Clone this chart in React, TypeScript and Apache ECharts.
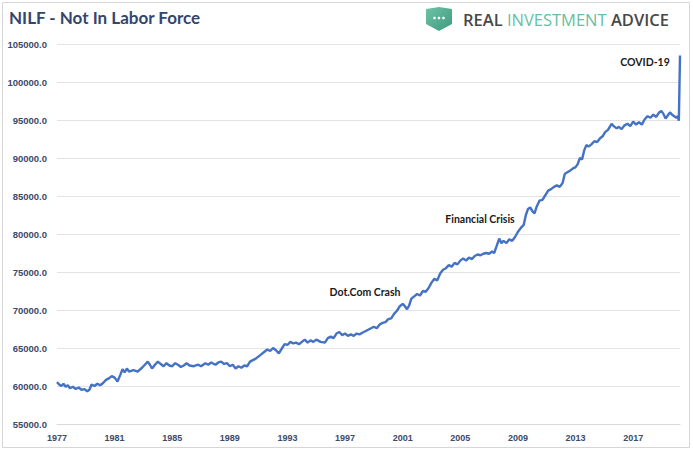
import React, { useEffect, useRef } from "react";
import * as echarts from "echarts";

const years: number[] = [
  1977.0, 1977.15, 1977.3, 1977.45, 1977.6, 1977.75, 1977.9, 1978.1, 1978.3, 1978.5, 1978.7, 1978.9,
  1979.1, 1979.25, 1979.4, 1979.6, 1979.8, 1980.0, 1980.2, 1980.4, 1980.6, 1980.8, 1981.0, 1981.2,
  1981.4, 1981.55, 1981.7, 1981.85, 1982.0, 1982.3, 1982.6, 1982.9, 1983.1, 1983.3, 1983.45, 1983.6,
  1983.8, 1984.0, 1984.2, 1984.4, 1984.6, 1984.8, 1985.0, 1985.2, 1985.4, 1985.6, 1985.8, 1986.0,
  1986.2, 1986.5, 1986.8, 1987.0, 1987.3, 1987.5, 1987.7, 1988.0, 1988.2, 1988.4, 1988.6, 1988.8,
  1989.0, 1989.2, 1989.4, 1989.6, 1989.8, 1990.0, 1990.2, 1990.4, 1990.6, 1990.8, 1991.0, 1991.2,
  1991.4, 1991.6, 1991.8, 1992.0, 1992.2, 1992.4, 1992.6, 1992.8, 1993.0, 1993.2, 1993.4, 1993.6,
  1993.8, 1994.0, 1994.2, 1994.4, 1994.6, 1994.8, 1995.0, 1995.3, 1995.6, 1995.8, 1996.0, 1996.2,
  1996.4, 1996.6, 1996.8, 1997.0, 1997.2, 1997.4, 1997.6, 1997.8, 1998.0, 1998.2, 1998.5, 1998.8,
  1999.0, 1999.2, 1999.4, 1999.6, 1999.8, 2000.0, 2000.2, 2000.4, 2000.6, 2000.8, 2001.0, 2001.15,
  2001.3, 2001.45, 2001.6, 2001.8, 2002.0, 2002.2, 2002.4, 2002.6, 2002.8, 2003.0, 2003.2, 2003.4,
  2003.6, 2003.8, 2004.0, 2004.2, 2004.4, 2004.6, 2004.8, 2005.0, 2005.2, 2005.4, 2005.6, 2005.8,
  2006.0, 2006.2, 2006.4, 2006.6, 2006.8, 2007.0, 2007.2, 2007.35, 2007.5, 2007.7, 2007.85, 2008.0,
  2008.2, 2008.4, 2008.6, 2008.8, 2009.0, 2009.2, 2009.4, 2009.55, 2009.7, 2009.85, 2010.0, 2010.15,
  2010.3, 2010.5, 2010.7, 2010.9, 2011.1, 2011.3, 2011.5, 2011.7, 2011.9, 2012.1, 2012.25, 2012.4,
  2012.6, 2012.8, 2013.0, 2013.15, 2013.3, 2013.45, 2013.6, 2013.75, 2013.9, 2014.1, 2014.3, 2014.5,
  2014.7, 2014.9, 2015.05, 2015.25, 2015.5, 2015.65, 2015.85, 2016.0, 2016.2, 2016.4, 2016.6, 2016.8,
  2017.0, 2017.2, 2017.4, 2017.6, 2017.8, 2018.0, 2018.2, 2018.4, 2018.6, 2018.8, 2018.95, 2019.1,
  2019.25, 2019.4, 2019.55, 2019.7, 2019.85, 2020.0, 2020.1, 2020.17, 2020.25,
];

const nilf: number[] = [
  60500, 60200, 60000, 60300, 59900, 60100, 59700, 59900, 59600, 59800, 59500, 59600,
  59300, 59500, 60200, 60000, 60300, 60100, 60400, 60800, 61000, 61300, 61100, 60600,
  61500, 62200, 61800, 62300, 61900, 62100, 61900, 62400, 62800, 63200, 62800, 62300,
  62800, 63200, 62900, 62600, 63000, 62700, 62600, 63000, 62800, 62500, 62700, 63000,
  62700, 62600, 62800, 62600, 63000, 62800, 63100, 62800, 63100, 63200, 62900, 63000,
  62600, 62800, 62300, 62600, 62400, 62700, 62600, 63200, 63400, 63600, 63900, 64200,
  64500, 64800, 64600, 65000, 64700, 64300, 64900, 65500, 65400, 65800, 65600, 65700,
  65500, 65800, 66100, 65700, 66000, 65800, 66100, 65800, 65700, 66300, 66500, 66300,
  66900, 67100, 66700, 66900, 66600, 66800, 66600, 66900, 66800, 67000, 67300, 67600,
  67800, 67600, 68100, 68300, 68400, 68800, 68900, 69500, 69900, 70500, 70800, 70500,
  70100, 70600, 71500, 71800, 72100, 71900, 72500, 72400, 72900, 73600, 74100, 73900,
  74800, 75300, 75500, 75900, 75700, 76200, 76000, 76500, 76800, 76500, 76900, 76700,
  77100, 77300, 77200, 77400, 77500, 77400, 77700, 77500, 78300, 79400, 78800, 79100,
  78800, 79300, 79100, 79600, 80300, 80800, 81200, 82500, 83300, 83500, 83000, 82700,
  83600, 84400, 84500, 85100, 85700, 85900, 86200, 86400, 86200, 86700, 87900, 88100,
  88300, 88600, 88800, 89200, 90000, 89800, 91000, 91700, 91500, 91800, 92200, 92100,
  92600, 92900, 93400, 93700, 94500, 94200, 93900, 94100, 93800, 94300, 94500, 94200,
  94800, 94400, 94700, 94400, 95100, 95500, 95300, 95700, 95400, 96000, 96200, 95800,
  95200, 95600, 96000, 95700, 95500, 95300, 95500, 94900, 103500,
];

const startYear = 1977;
const yMin = 55000;
const yMax = 105000;
const yStep = 5000;
const yearStep = 4;

const annotations = [
  { text: "COVID-19", x: 645, y: 62 },
  { text: "Financial Crisis", x: 480, y: 219 },
  { text: "Dot.Com Crash", x: 365, y: 292 },
];

export default function App() {
  const ref = useRef<HTMLDivElement>(null);
  useEffect(() => {
    if (!ref.current) return;
    const chart = echarts.init(ref.current, null, { renderer: "svg" });
    const data = years.map((yr, i) => [+(yr - startYear).toFixed(3), nilf[i]]);
    const lastX = data[data.length - 1][0];
    chart.setOption({
      animation: false,
      backgroundColor: "#ffffff",
      grid: { left: 57, right: 13, top: 44, bottom: 27, containLabel: false },
      xAxis: {
        type: "value",
        min: 0,
        max: lastX,
        interval: yearStep,
        axisLine: { show: true, lineStyle: { color: "#d9d9d9", width: 1 } },
        axisTick: { show: false },
        splitLine: { show: false },
        axisLabel: {
          color: "#3c4a6b",
          fontSize: 9,
          fontWeight: "bold",
          fontFamily: "Liberation Sans",
          margin: 9,
          formatter: (v: number) =>
            Math.abs(v % yearStep) < 1e-6 ? String(startYear + Math.round(v)) : "",
        },
      },
      yAxis: {
        type: "value",
        min: yMin,
        max: yMax,
        interval: yStep,
        axisLine: { show: false },
        axisTick: { show: false },
        splitLine: { show: true, lineStyle: { color: "#e3e3e3", width: 1 } },
        axisLabel: {
          color: "#3c4a6b",
          fontSize: 9.5,
          fontWeight: "bold",
          fontFamily: "Liberation Sans",
          margin: 10,
          formatter: (v: number) => v.toFixed(1),
        },
      },
      series: [
        {
          type: "line",
          data,
          showSymbol: false,
          lineStyle: { color: "#4472c4", width: 2.4 },
          itemStyle: { color: "#4472c4" },
        },
      ],
      graphic: [
        {
          type: "rect",
          shape: { x: 2.5, y: 2.5, width: 687, height: 445 },
          style: { fill: "none", stroke: "#d6d6d6", lineWidth: 1 },
          silent: true,
        },
        {
          type: "text",
          x: 9,
          y: 17,
          style: {
            text: "NILF - Not In Labor Force",
            font: 'bold 17px "Lato", "Noto Sans", sans-serif',
            fill: "#34466e",
            verticalAlign: "middle",
          },
        },
        {
          type: "polygon",
          shape: {
            points: [
              [426, 9], [439, 7], [452, 9], [452, 24], [439, 31], [426, 24],
            ],
          },
          style: {
            fill: new echarts.graphic.LinearGradient(0, 0, 1, 1, [
              { offset: 0, color: "#6fc3a6" },
              { offset: 1, color: "#3d9a7f" },
            ]),
          },
        },
        { type: "circle", shape: { cx: 434.5, cy: 18, r: 1.3 }, style: { fill: "#ffffff" } },
        { type: "circle", shape: { cx: 439, cy: 18, r: 1.3 }, style: { fill: "#ffffff" } },
        { type: "circle", shape: { cx: 443.5, cy: 18, r: 1.3 }, style: { fill: "#ffffff" } },
        {
          type: "text",
          x: 463,
          y: 19,
          style: {
            text: "{a|REAL }{b|INVESTMENT }{a|ADVICE}",
            verticalAlign: "middle",
            rich: {
              a: { font: '600 16.5px "Open Sans", sans-serif', fill: "#474747" },
              b: { font: '500 16.5px "Open Sans", sans-serif', fill: "#66c0a2" },
            },
          },
        },
        ...annotations.map((a) => ({
          type: "text",
          x: a.x,
          y: a.y,
          style: {
            text: a.text,
            font: 'bold 10.5px "Lato", sans-serif',
            fill: "#1a1a1a",
            align: "center",
            verticalAlign: "middle",
          },
        })),
      ],
    });
    return () => chart.dispose();
  }, []);
  return (
    <div
      ref={ref}
      style={{ position: "fixed", left: 0, top: 0, width: 693, height: 451 }}
    />
  );
}
